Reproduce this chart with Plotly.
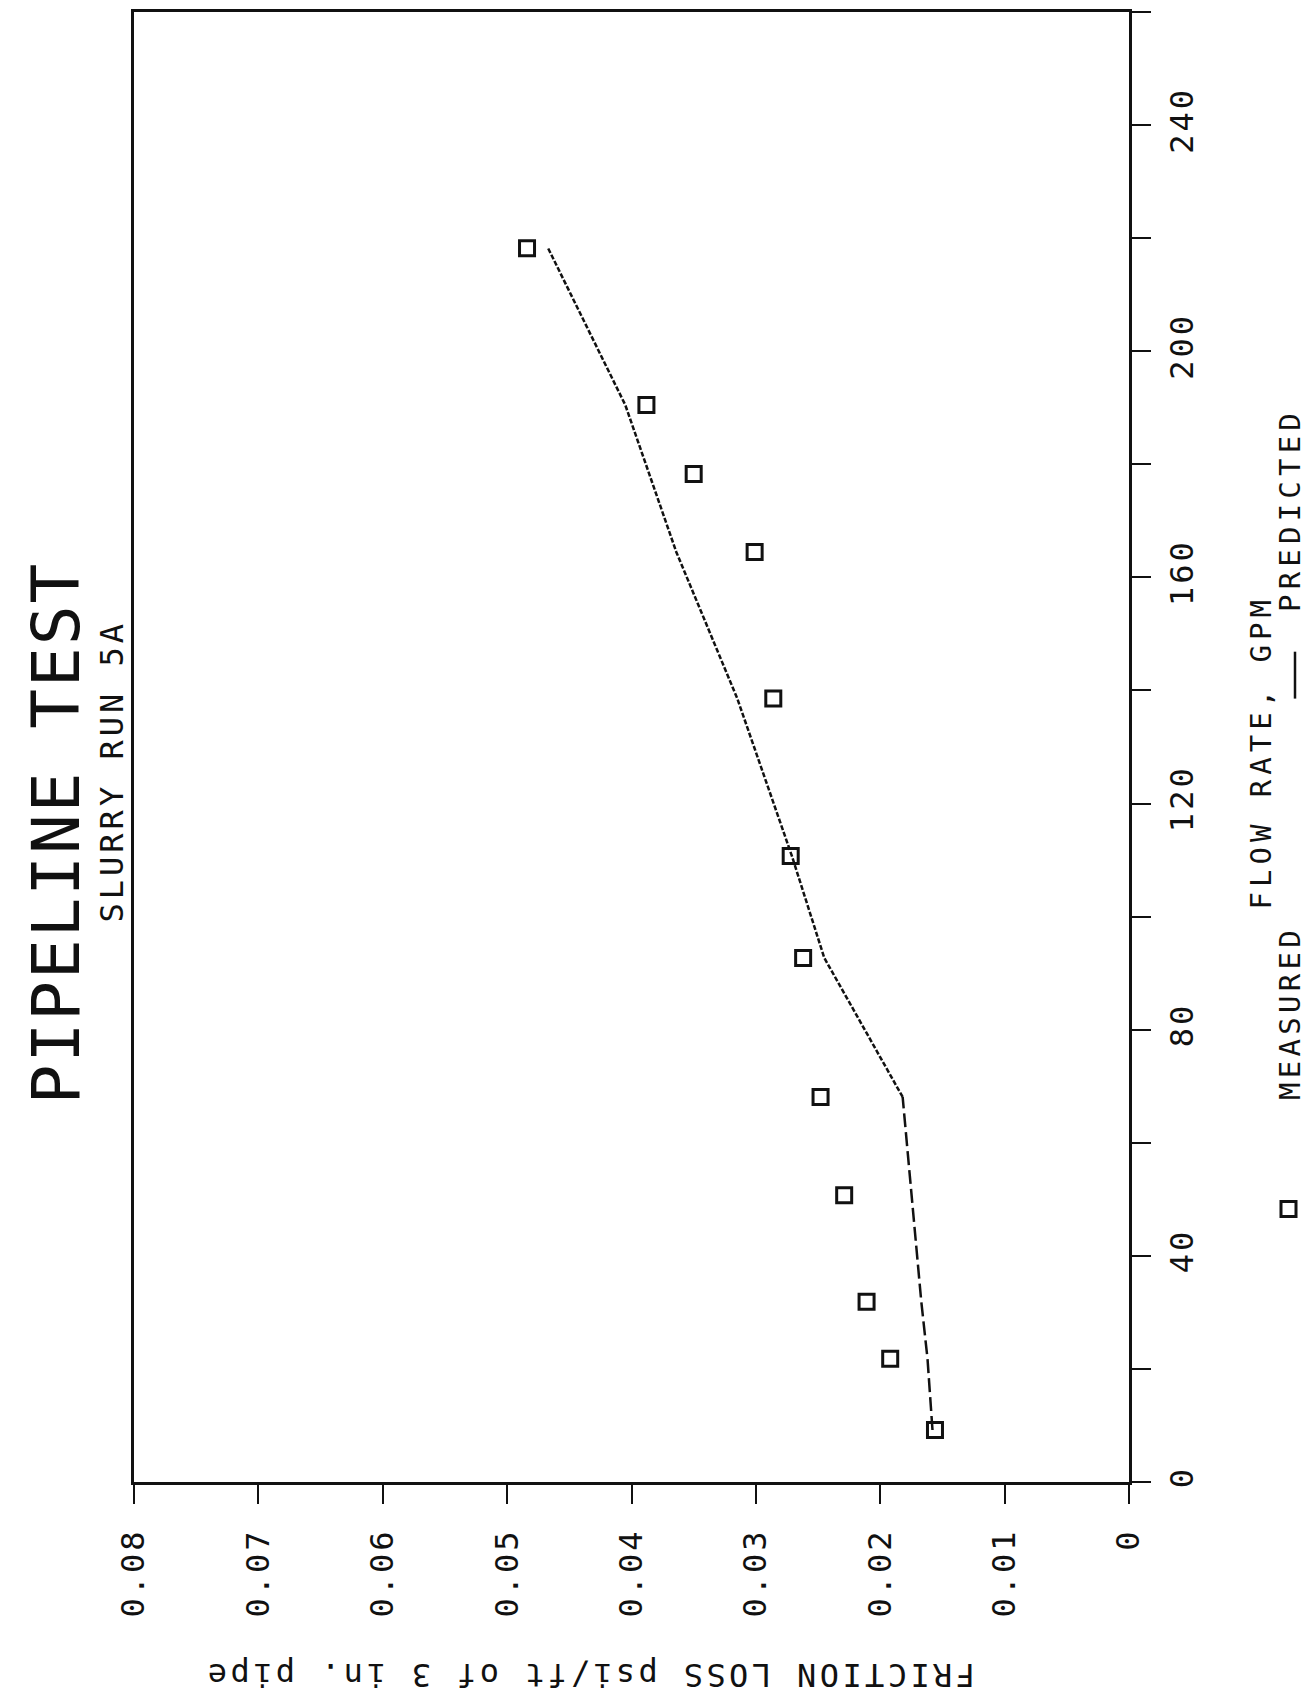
import plotly.graph_objects as go

# ---- data ----
measured_flow = [9.2, 21.8, 31.9, 50.7, 68.1, 92.7, 110.7, 138.6, 164.5, 178.3, 190.5, 218.2]
measured_loss = [0.0156, 0.0192, 0.0211, 0.0229, 0.0248, 0.0262, 0.0272, 0.0286, 0.0301, 0.0350, 0.0388, 0.0484]

predicted_flow = [9.2, 21.8, 31.9, 50.7, 68.1, 92.7, 110.7, 138.6, 164.5, 178.3, 190.5, 218.2]
predicted_loss = [0.0158, 0.0162, 0.0167, 0.0175, 0.0182, 0.0245, 0.0271, 0.0315, 0.0364, 0.0386, 0.0405, 0.0467]

loss_ticks = [0, 0.01, 0.02, 0.03, 0.04, 0.05, 0.06, 0.07, 0.08]
loss_labels = ["0", "0.01", "0.02", "0.03", "0.04", "0.05", "0.06", "0.07", "0.08"]
flow_ticks = [0, 20, 40, 60, 80, 100, 120, 140, 160, 180, 200, 220, 240, 260]
flow_labels = ["0", "", "40", "", "80", "", "120", "", "160", "", "200", "", "240", ""]

title_text = "PIPELINE TEST"
subtitle_text = "SLURRY RUN 5A"
x_title = "FRICTION LOSS psi/ft of 3 in. pipe"
y_title = "FLOW RATE, GPM"
legend_measured = "MEASURED"
legend_predicted = "PREDICTED"

# ---- layout geometry ----
W_FIG, H_FIG = 1308, 1706
L, R, T, B = 134, 1129, 9, 1482
PW, PH = R - L, B - T


def xp(px):
    return (px - L) / PW


def yp(py):
    return (B - py) / PH


def spaced(s, px):
    return '<span style="letter-spacing:%spx">%s</span>' % (px, s) if s else s


FONT = "DejaVu Sans Mono, Liberation Mono, monospace"
INK = "#111111"

fig = go.Figure()

# predicted: lower (dashed) part and upper (fine dashed) part
fig.add_trace(go.Scatter(
    x=predicted_loss[:5], y=predicted_flow[:5], mode="lines",
    line=dict(color=INK, width=2.5, dash="14px,5px"), showlegend=False,
))
fig.add_trace(go.Scatter(
    x=predicted_loss[4:], y=predicted_flow[4:], mode="lines",
    line=dict(color=INK, width=2.5, dash="5px,2px"), showlegend=False,
))
fig.add_trace(go.Scatter(
    x=measured_loss, y=measured_flow, mode="markers",
    marker=dict(symbol="square-open", size=15, color=INK, line=dict(width=3, color=INK)),
    showlegend=False,
))

axis_common = dict(
    showline=True, linecolor=INK, linewidth=2.5, mirror=True,
    ticks="outside", ticklen=19, tickwidth=2, tickcolor=INK,
    showgrid=False, zeroline=False,
    tickfont=dict(family=FONT, size=32, color=INK),
    tickangle=-90,
)

fig.update_layout(
    width=W_FIG, height=H_FIG,
    margin=dict(l=L, r=W_FIG - R, t=T, b=H_FIG - B),
    paper_bgcolor="white", plot_bgcolor="white",
    xaxis=dict(range=[0.08, 0], tickmode="array", tickvals=loss_ticks,
               ticktext=[spaced(t, 3) for t in loss_labels], ticklabelstandoff=12, **axis_common),
    yaxis=dict(range=[0, 260], side="right", tickmode="array", tickvals=flow_ticks,
               ticktext=[spaced(t, 3) for t in flow_labels], ticklabelstandoff=4, **axis_common),
)

ann = [
    dict(text=title_text, x=56, y=832, textangle=-90, size=66, ls=2),
    dict(text=subtitle_text, x=112, y=770, textangle=-90, size=32, ls=4),
    dict(text=x_title, x=590, y=1676, textangle=180, size=32, ls=3.4),
    dict(text=y_title, x=1261, y=751, textangle=-90, size=29, ls=5),
    dict(text=legend_measured, x=1290, y=1012, textangle=-90, size=29, ls=4.3),
    dict(text=legend_predicted, x=1290, y=508, textangle=-90, size=29, ls=5.2),
]
for a in ann:
    fig.add_annotation(
        text=spaced(a["text"], a["ls"]), x=xp(a["x"]), y=yp(a["y"]), xref="paper", yref="paper",
        textangle=a["textangle"], showarrow=False, xanchor="center", yanchor="middle",
        font=dict(family=FONT, size=a["size"], color=INK),
    )

# legend symbols
fig.add_shape(type="rect", xref="paper", yref="paper",
              x0=xp(1281), x1=xp(1296), y0=yp(1216), y1=yp(1201),
              line=dict(color=INK, width=3), fillcolor="rgba(0,0,0,0)")
fig.add_shape(type="line", xref="paper", yref="paper",
              x0=xp(1295), x1=xp(1295), y0=yp(650), y1=yp(697),
              line=dict(color=INK, width=2.5))

fig.write_html("out.html")
